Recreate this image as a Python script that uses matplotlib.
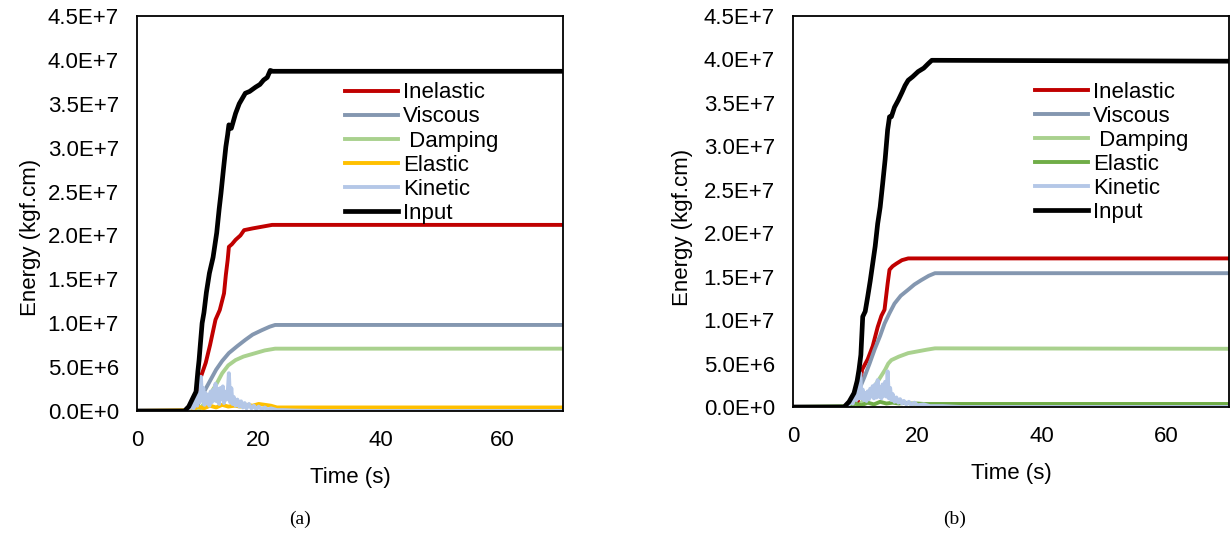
import matplotlib
matplotlib.use("Agg")
import matplotlib.pyplot as plt
from matplotlib.ticker import FuncFormatter

plt.rcParams['font.family'] = ['Liberation Sans', 'DejaVu Sans']

# ---- panel (a) data ----
t_in_a = [0, 7.8, 8.5, 9.2, 9.7, 10.0, 10.2, 10.4, 10.7, 11.0, 11.4, 11.9, 12.5, 13.1, 13.5,
          13.8, 14.2, 14.6, 14.9, 15.1, 15.5, 16.2, 16.8, 17.3, 17.8, 18.5, 19.5, 20.2,
          20.8, 21.4, 21.9, 22.3, 70]
e_in_a = [0, 0, 0.05e7, 0.15e7, 0.22e7, 0.45e7, 0.58e7, 0.75e7, 1.0e7, 1.12e7, 1.35e7,
          1.57e7, 1.75e7, 2.03e7, 2.3e7, 2.48e7, 2.75e7, 3.01e7, 3.15e7, 3.26e7, 3.22e7,
          3.39e7, 3.5e7, 3.56e7, 3.62e7, 3.64e7, 3.69e7, 3.72e7, 3.77e7, 3.8e7, 3.88e7,
          3.87e7, 3.87e7]
t_inel_a = [0, 9.8, 10.3, 10.5, 11.3, 12.0, 12.9, 13.6, 14.3, 14.6, 14.9, 15.1, 15.6, 16.2,
            17.0, 17.6, 19, 22.2, 70]
e_inel_a = [0, 0, 0.25e7, 0.39e7, 0.55e7, 0.75e7, 1.04e7, 1.15e7, 1.34e7, 1.55e7, 1.72e7,
            1.87e7, 1.9e7, 1.95e7, 2.0e7, 2.06e7, 2.08e7, 2.12e7, 2.12e7]
t_visc_a = [0, 9.5, 10.5, 11.5, 13, 14, 15.1, 16.5, 17.8, 19, 20.5, 21.8, 22.7, 70]
e_visc_a = [0, 0, 0.15e7, 0.28e7, 0.47e7, 0.57e7, 0.66e7, 0.74e7, 0.81e7, 0.87e7, 0.92e7,
            0.96e7, 0.98e7, 0.98e7]
t_damp_a = [0, 10, 11, 12, 13, 14, 15, 16.2, 17.5, 19.5, 21, 22.7, 70]
e_damp_a = [0, 0, 0.8e6, 1.9e6, 3.0e6, 4.3e6, 5.2e6, 5.8e6, 6.2e6, 6.6e6, 6.9e6, 7.1e6, 7.1e6]
t_elas_a = [0, 9, 10, 11, 12, 13, 14, 15, 16, 17, 18, 19, 20, 21, 22, 23, 70]
e_elas_a = [0, 0.1e6, 0.5e6, 0.3e6, 0.6e6, 0.4e6, 0.7e6, 0.5e6, 0.6e6, 0.5e6, 0.7e6, 0.6e6,
            0.8e6, 0.7e6, 0.6e6, 0.4e6, 0.4e6]
t_kin_a = [0, 8, 8.6, 9.0, 9.3, 9.6, 9.9,
           10.1, 10.3, 10.5, 10.7, 10.9, 11.1, 11.3, 11.5, 11.7, 11.9,
           12.1, 12.3, 12.5, 12.7, 12.9, 13.1, 13.3, 13.5, 13.7, 13.9,
           14.1, 14.3, 14.5, 14.7, 14.9, 15.1, 15.3, 15.5, 15.7, 15.9,
           16.2, 16.5, 16.8, 17.1, 17.4, 17.7, 18.0, 18.4, 18.8, 19.2, 19.6, 20.0,
           20.5, 21.0, 21.5, 22, 23, 24, 26, 30, 70]
e_kin_a = [0, 0, 0.2e6, 0.9e6, 0.3e6, 1.4e6, 0.6e6,
           2.0e6, 1.0e6, 3.9e6, 1.2e6, 2.6e6, 0.7e6, 2.0e6, 0.9e6, 1.8e6, 0.6e6,
           2.2e6, 1.0e6, 2.4e6, 1.2e6, 3.1e6, 1.1e6, 2.5e6, 0.8e6, 2.6e6, 1.4e6,
           2.8e6, 0.9e6, 2.2e6, 1.3e6, 2.0e6, 4.3e6, 1.0e6, 2.6e6, 0.8e6, 1.6e6,
           0.6e6, 1.3e6, 0.5e6, 1.1e6, 0.4e6, 0.9e6, 0.3e6, 0.8e6, 0.3e6, 0.6e6, 0.2e6, 0.5e6,
           0.2e6, 0.4e6, 0.15e6, 0.3e6, 0.1e6, 0.1e6, 0.05e6, 0, 0]

# ---- panel (b) data ----
t_in_b = [0, 8.2, 9.0, 9.8, 10.3, 10.6, 10.9, 11.2, 11.6, 12.0, 12.4, 12.8, 13.2, 13.6, 14.0,
          14.4, 14.8, 15.2, 15.5, 15.8, 16.3, 16.9, 17.5, 18.0, 18.5, 19.2, 20.1, 21.0, 21.7,
          22.3, 70]
e_in_b = [0, 0, 0.06e7, 0.16e7, 0.3e7, 0.43e7, 0.6e7, 1.04e7, 1.1e7, 1.27e7, 1.45e7, 1.65e7,
          1.85e7, 2.11e7, 2.3e7, 2.57e7, 2.85e7, 3.19e7, 3.34e7, 3.34e7, 3.45e7, 3.53e7,
          3.62e7, 3.7e7, 3.76e7, 3.8e7, 3.86e7, 3.9e7, 3.95e7, 3.99e7, 3.98e7]
t_inel_b = [0, 10.3, 11.1, 12, 12.8, 13.6, 14.2, 14.7, 15.0, 15.2, 15.5, 16.0, 16.6, 17.5,
            18.5, 70]
e_inel_b = [0, 0, 0.43e7, 0.55e7, 0.7e7, 0.92e7, 1.05e7, 1.12e7, 1.3e7, 1.42e7, 1.58e7,
            1.62e7, 1.65e7, 1.69e7, 1.71e7, 1.71e7]
t_visc_b = [0, 9.5, 10.4, 11.5, 12.3, 13.1, 14, 14.7, 15.5, 16.3, 17.3, 18.5, 19.5, 20.6,
            21.8, 22.8, 70]
e_visc_b = [0, 0, 0.16e7, 0.35e7, 0.5e7, 0.66e7, 0.82e7, 0.96e7, 1.08e7, 1.19e7, 1.28e7,
            1.35e7, 1.41e7, 1.46e7, 1.51e7, 1.54e7, 1.54e7]
t_damp_b = [0, 10.5, 11.5, 12.5, 13.3, 14.1, 14.8, 15.3, 15.8, 17, 18.5, 20, 21.5, 22.8, 70]
e_damp_b = [0, 0, 1.0e6, 1.8e6, 2.6e6, 3.5e6, 4.3e6, 5.0e6, 5.4e6, 5.8e6, 6.2e6, 6.4e6,
            6.6e6, 6.75e6, 6.7e6]
t_elas_b = [0, 9, 10, 11, 12, 13, 14, 15, 16, 17, 18, 19, 20, 21, 22, 70]
e_elas_b = [0, 0.1e6, 0.4e6, 0.2e6, 0.5e6, 0.3e6, 0.6e6, 0.4e6, 0.5e6, 0.4e6, 0.5e6, 0.4e6,
            0.4e6, 0.35e6, 0.35e6, 0.35e6]
t_kin_b = [0, 8.5, 9.0, 9.3, 9.6, 9.9,
           10.2, 10.4, 10.6, 10.8, 11.0, 11.2, 11.4, 11.6, 11.8, 12.0,
           12.2, 12.4, 12.6, 12.8, 13.0, 13.2, 13.4, 13.6, 13.8, 14.0,
           14.2, 14.4, 14.6, 14.8, 15.0, 15.2, 15.4, 15.6, 15.8, 16.0,
           16.3, 16.6, 16.9, 17.2, 17.5, 17.8, 18.2, 18.6, 19.0, 19.5, 20.0,
           21, 22, 24, 27, 70]
e_kin_b = [0, 0, 0.3e6, 0.9e6, 0.4e6, 1.5e6,
           0.8e6, 2.2e6, 1.0e6, 3.9e6, 1.0e6, 2.0e6, 0.8e6, 1.6e6, 0.7e6, 1.8e6,
           0.9e6, 2.1e6, 1.2e6, 2.4e6, 1.0e6, 2.6e6, 1.1e6, 3.1e6, 1.2e6, 2.3e6,
           1.0e6, 2.6e6, 1.3e6, 2.9e6, 1.2e6, 4.1e6, 1.0e6, 2.2e6, 0.8e6, 1.5e6,
           0.6e6, 1.1e6, 0.5e6, 0.9e6, 0.4e6, 0.7e6, 0.3e6, 0.6e6, 0.25e6, 0.5e6, 0.2e6,
           0.3e6, 0.1e6, 0.1e6, 0, 0]

labels = ['Inelastic', 'Viscous', ' Damping', 'Elastic', 'Kinetic', 'Input']
colors_a = ['#C00000', '#8497B0', '#A9D18E', '#FFC000', '#B4C7E7', '#000000']
colors_b = ['#C00000', '#8497B0', '#A9D18E', '#70AD47', '#B4C7E7', '#000000']

FS = 16


def sci_fmt(v, pos):
    if v == 0:
        return '0.0E+0'
    s = f"{v:.1E}"
    mant, exp = s.split('E')
    return f"{mant}E{exp[0]}{int(exp[1:])}"


def draw(ax, series, colors, leg_x, ylab_pos):
    for (t, e), c, lab in zip(series, colors, labels):
        lw = 3.4 if c == '#000000' else 2.8
        ax.plot(t, e, color=c, lw=lw, label=lab, solid_joinstyle='round')
    ax.set_xlim(0, 70)
    ax.set_ylim(0, 4.5e7)
    ax.set_xticks([0, 20, 40, 60])
    ax.set_yticks([i * 5e6 for i in range(10)])
    ax.yaxis.set_major_formatter(FuncFormatter(sci_fmt))
    ax.tick_params(length=0, labelsize=FS)
    ax.tick_params(axis='y', pad=13)
    ax.tick_params(axis='x', pad=14)
    for sp in ax.spines.values():
        sp.set_linewidth(1.3)
        sp.set_color('black')
    ax.set_xlabel('Time (s)', fontsize=FS, labelpad=11)
    ax.set_ylabel('Energy (kgf.cm)', fontsize=FS)
    ax.yaxis.set_label_coords(*ylab_pos)
    ax.legend(loc='upper left', bbox_to_anchor=(leg_x, 0.832), frameon=False, fontsize=FS,
              handlelength=2.4, handletextpad=0.2, labelspacing=0.14, borderaxespad=0,
              borderpad=0)


fig = plt.figure(figsize=(12.31, 5.59), dpi=100)
ax1 = fig.add_axes([0.1113, 0.2648, 0.346, 0.7066])
ax2 = fig.add_axes([0.6442, 0.2719, 0.354, 0.6995])

draw(ax1, [(t_inel_a, e_inel_a), (t_visc_a, e_visc_a), (t_damp_a, e_damp_a),
           (t_elas_a, e_elas_a), (t_kin_a, e_kin_a), (t_in_a, e_in_a)], colors_a, 0.488,
     (-0.225, 0.44))
draw(ax2, [(t_inel_b, e_inel_b), (t_visc_b, e_visc_b), (t_damp_b, e_damp_b),
           (t_elas_b, e_elas_b), (t_kin_b, e_kin_b), (t_in_b, e_in_b)], colors_b, 0.555,
     (-0.23, 0.46))

fig.text(300 / 1231, 1 - 519 / 559, '(a)', fontsize=14, family='Liberation Serif',
         ha='center', va='center')
fig.text(955 / 1231, 1 - 519 / 559, '(b)', fontsize=14, family='Liberation Serif',
         ha='center', va='center')

fig.savefig('out.png', dpi=100)
